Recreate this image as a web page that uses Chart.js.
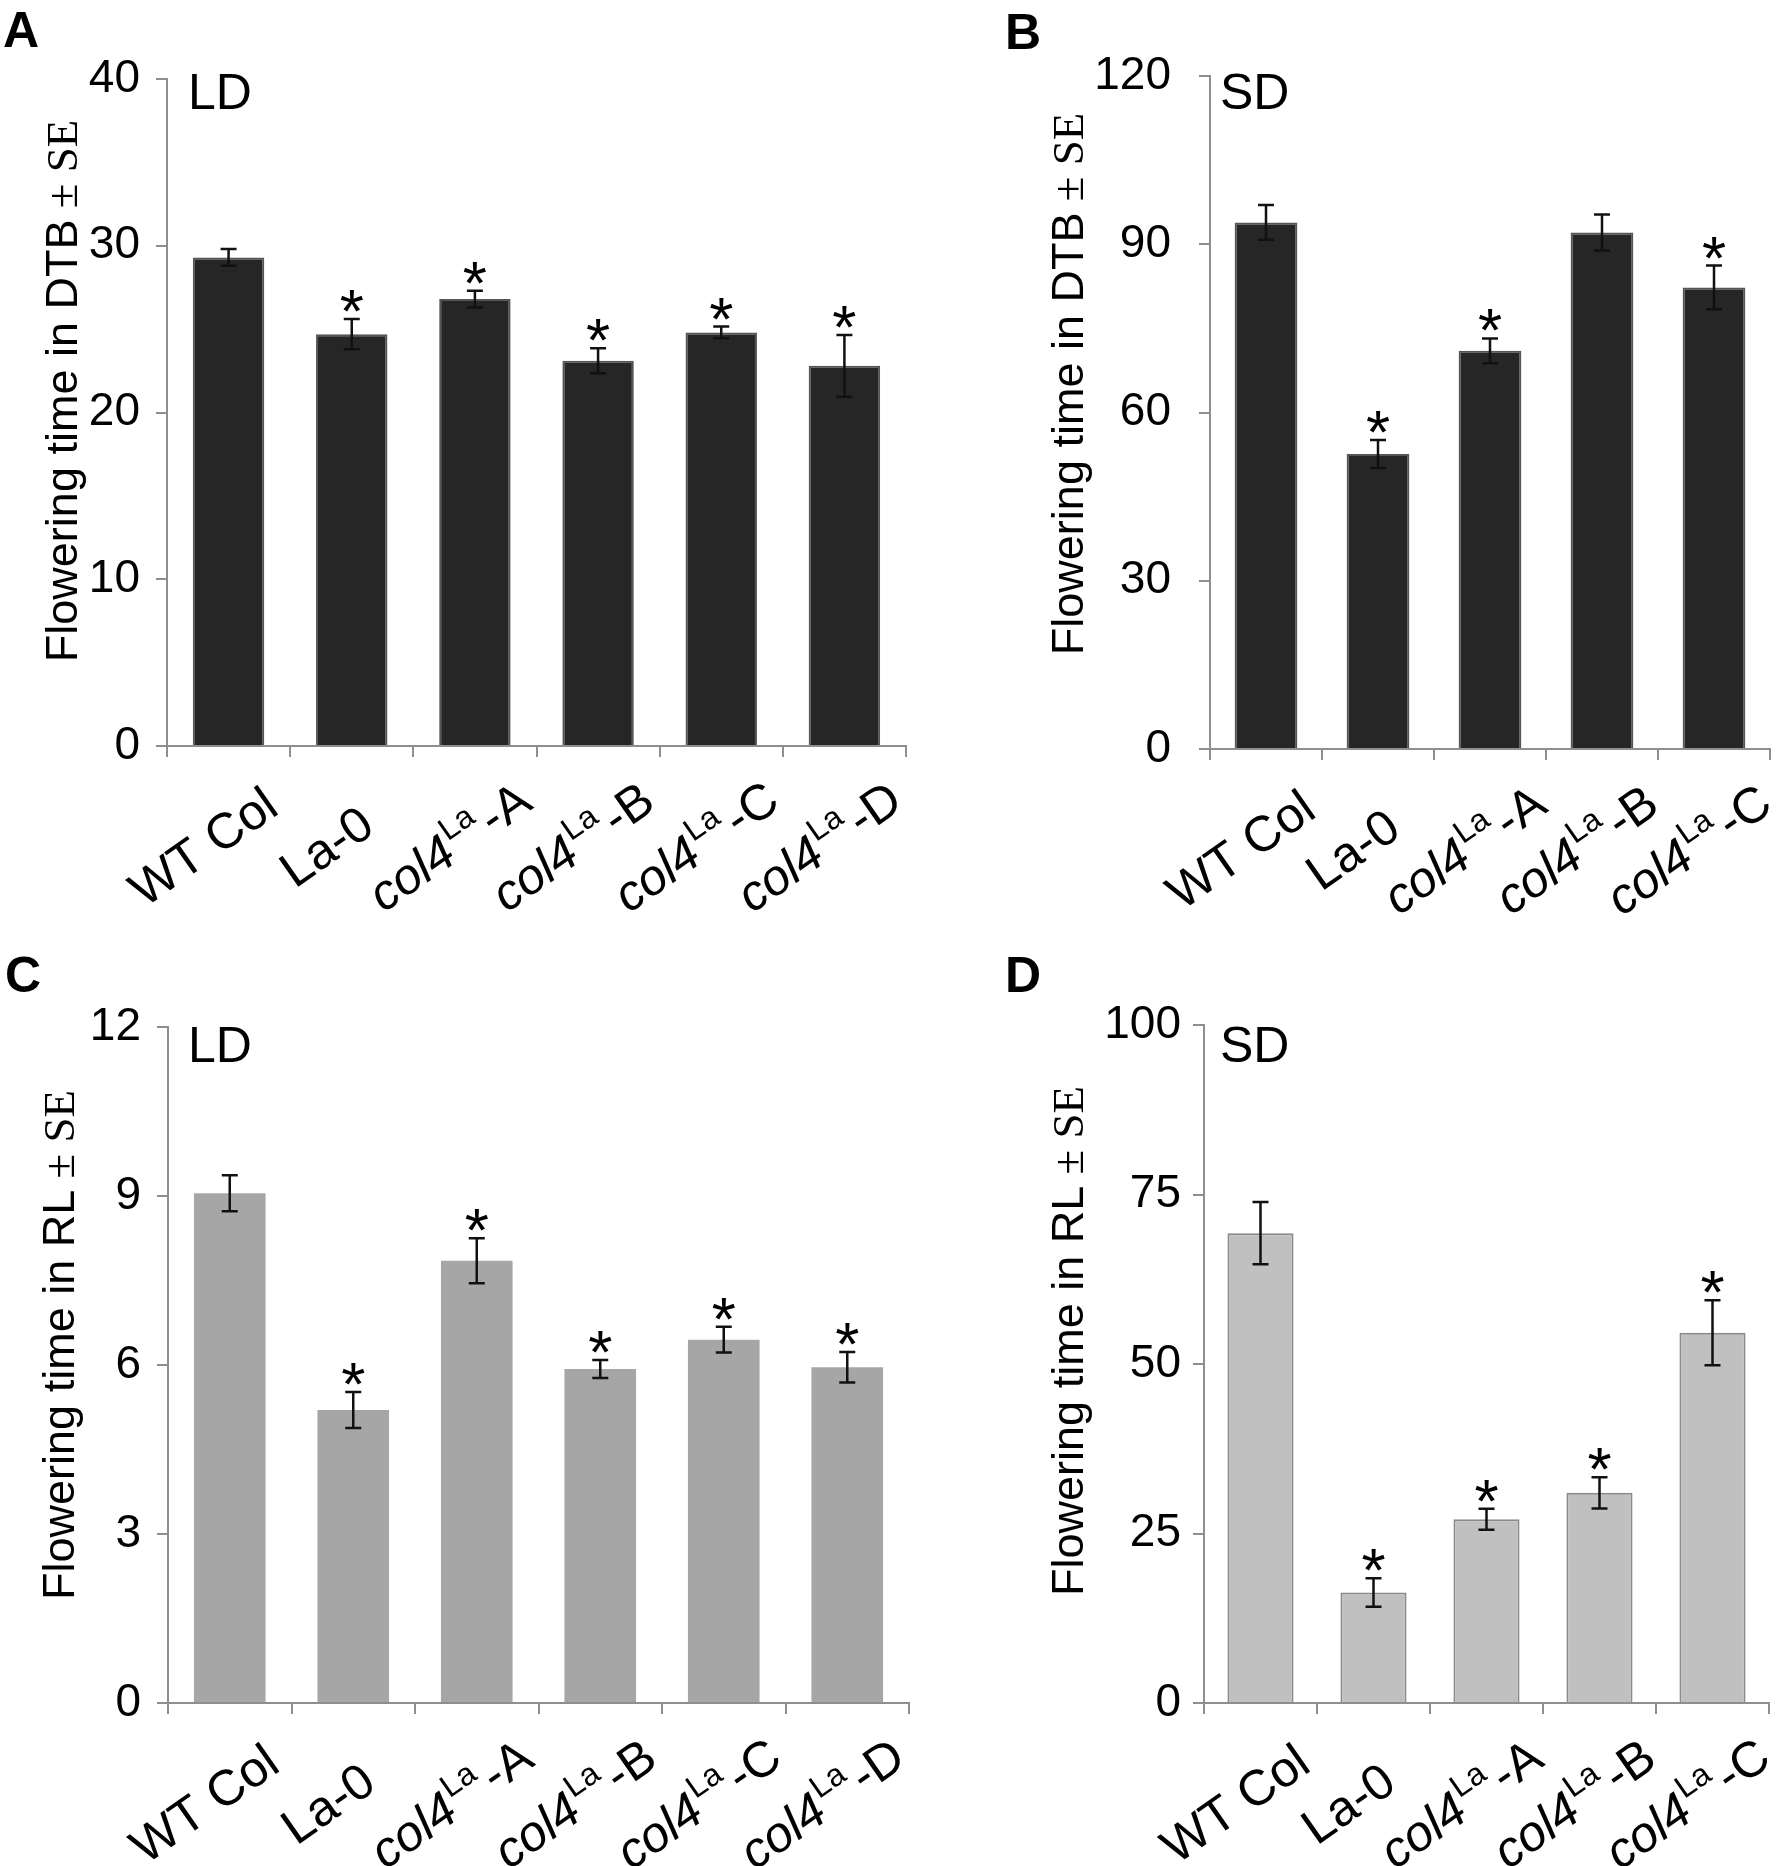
<!DOCTYPE html>
<html>
<head>
<meta charset="utf-8">
<title>Flowering time</title>
<script src="https://cdn.jsdelivr.net/npm/chart.js@4.4.1/dist/chart.umd.min.js"></script>
<style>
html, body { margin: 0; padding: 0; background: #fff; }
#fig { position: relative; width: 1778px; height: 1866px; overflow: hidden; }
.panel { position: absolute; height: 933px; }
</style>
</head>
<body>
<div id="fig">
  <div class="panel" style="left:0;top:0;width:940px"><canvas id="panelA" width="940" height="933"></canvas></div>
  <div class="panel" style="left:889px;top:0;width:889px"><canvas id="panelB" width="889" height="933"></canvas></div>
  <div class="panel" style="left:0;top:933px;width:940px"><canvas id="panelC" width="940" height="933"></canvas></div>
  <div class="panel" style="left:889px;top:933px;width:889px"><canvas id="panelD" width="889" height="933"></canvas></div>
</div>
<script>
// genotypes
var linesLD = ['WT Col', 'La-0', 'col4La-A', 'col4La-B', 'col4La-C', 'col4La-D'];
var linesSD = ['WT Col', 'La-0', 'col4La-A', 'col4La-B', 'col4La-C'];

// days to bolting
var dtbLD = [29.3, 24.7, 26.8, 23.1, 24.8, 22.8];
var dtbLDse = [0.5, 0.9, 0.5, 0.75, 0.35, 1.85];
var dtbLDsig = [false, true, true, true, true, true];
var dtbSD = [93.9, 52.6, 71.0, 92.1, 82.3];
var dtbSDse = [3.1, 2.5, 2.2, 3.2, 3.9];
var dtbSDsig = [false, true, true, false, true];

// rosette leaves
var rlLD = [9.05, 5.2, 7.85, 5.93, 6.45, 5.96];
var rlLDse = [0.32, 0.32, 0.4, 0.16, 0.23, 0.27];
var rlLDsig = [false, true, true, true, true, true];
var rlSD = [69.3, 16.3, 27.1, 31.0, 54.6];
var rlSDse = [4.6, 2.1, 1.55, 2.3, 4.8];
var rlSDsig = [false, true, true, true, true];

// y tick labels
var ticksDtbLD = [0, 10, 20, 30, 40];
var ticksDtbSD = [0, 30, 60, 90, 120];
var ticksRlLD = [0, 3, 6, 9, 12];
var ticksRlSD = [0, 25, 50, 75, 100];

var SANS = '"Liberation Sans", Arial, sans-serif';
var SERIF = '"Liberation Serif", "Times New Roman", serif';
var AXIS_GREY = '#8e8e8e';

//x labels: col4 in italics with a superscript La, rotated 35deg,
//the rotated box is centred a little left of the bar
function drawXLabel(ctx, text, cx, axisY){
    var segs;
    if(text.indexOf('col4La') === 0){
        segs = [
            {t: 'col4', f: 'italic 50px ' + SANS, dy: 0, gap: 0},
            {t: 'La', f: '32px ' + SANS, dy: -22, gap: 2},
            {t: text.slice(6), f: '50px ' + SANS, dy: 0, gap: 5}
        ];
    } else {
        segs = [{t: text, f: '50px ' + SANS, dy: 0, gap: 0}];
    }
    var len = 0;
    segs.forEach(function(s){
        ctx.font = s.f;
        s.w = ctx.measureText(s.t).width;
        len += s.w + s.gap;
    });
    var th = 35 * Math.PI / 180;
    var cap = 35;
    var boxW = len * Math.cos(th) + cap * Math.sin(th);
    var boxH = len * Math.sin(th) + cap * Math.cos(th);
    var topRightX = cx - 46 + boxW / 2;
    var topRightY = axisY + 100 - boxH / 2;
    ctx.save();
    ctx.translate(topRightX + cap * Math.sin(th), topRightY + cap * Math.cos(th));
    ctx.rotate(-th);
    ctx.fillStyle = '#000';
    ctx.textAlign = 'left';
    ctx.textBaseline = 'alphabetic';
    var x = -len;
    segs.forEach(function(s){
        x += s.gap;
        ctx.font = s.f;
        ctx.fillText(s.t, x, s.dy);
        x += s.w;
    });
    ctx.restore();
}

var decor = {
    id: 'decor',
    afterDatasetsDraw: function(chart, args, opts){
        var ctx = chart.ctx;
        var y = chart.scales.y;
        var meta = chart.getDatasetMeta(0);
        ctx.save();
        //error bars and stars
        meta.data.forEach(function(bar, i){
            var v = opts.values[i], e = opts.errors[i];
            var top = y.getPixelForValue(v + e);
            var bot = y.getPixelForValue(v - e);
            ctx.strokeStyle = '#111';
            ctx.lineWidth = 2.5;
            ctx.beginPath();
            ctx.moveTo(bar.x, top); ctx.lineTo(bar.x, bot);
            ctx.moveTo(bar.x - 8, top); ctx.lineTo(bar.x + 8, top);
            ctx.moveTo(bar.x - 8, bot); ctx.lineTo(bar.x + 8, bot);
            ctx.stroke();
            if(opts.sig[i]){
                ctx.font = '62px ' + SANS;
                ctx.fillStyle = '#000';
                ctx.textAlign = 'center';
                ctx.textBaseline = 'alphabetic';
                var m = ctx.measureText('*');
                ctx.fillText('*', bar.x, top - 7 - m.actualBoundingBoxDescent);
            }
        });
        ctx.restore();
    },
    afterDraw: function(chart, args, opts){
        var ctx = chart.ctx;
        var xs = chart.scales.x;
        var area = chart.chartArea;
        ctx.save();
        chart.data.labels.forEach(function(lab, i){
            drawXLabel(ctx, lab, xs.getPixelForValue(i), area.bottom);
        });

        //y title, sans part then serif part
        ctx.translate(opts.titleX, opts.titleY);
        ctx.rotate(-Math.PI / 2);
        ctx.fillStyle = '#000';
        ctx.textBaseline = 'alphabetic';
        ctx.textAlign = 'left';
        ctx.font = '45px ' + SANS;
        var w1 = ctx.measureText(opts.title).width;
        ctx.font = '45px ' + SERIF;
        var w2 = ctx.measureText(' \u00b1 SE').width;
        var x0 = -(w1 + w2) / 2;
        ctx.font = '45px ' + SANS;
        ctx.fillText(opts.title, x0, 11);
        ctx.font = '45px ' + SERIF;
        ctx.fillText(' \u00b1 SE', x0 + w1, 11);
        ctx.restore();

        ctx.save();
        ctx.fillStyle = '#000';
        ctx.textAlign = 'left';
        ctx.textBaseline = 'alphabetic';
        ctx.font = 'bold 50px ' + SANS;
        ctx.fillText(opts.letter, opts.letterX, opts.letterY);
        ctx.font = '50px ' + SANS;
        ctx.fillText(opts.cond, opts.condX, opts.condY);
        ctx.restore();
    }
};

function panel(id, p){
    var canvas = document.getElementById(id);
    var H = canvas.height, W = canvas.width;
    return new Chart(canvas, {
        type: 'bar',
        data: {
            labels: p.labels,
            datasets: [{
                data: p.values,
                backgroundColor: p.fill,
                borderColor: p.border,
                borderWidth: p.borderWidth,
                categoryPercentage: 1,
                barPercentage: p.barPct
            }]
        },
        options: {
            responsive: false,
            animation: false,
            devicePixelRatio: 1,
            layout: {padding: {top: p.top, right: W - p.right, bottom: 0, left: 0}},
            plugins: {
                legend: {display: false},
                tooltip: {enabled: false},
                decor: {
                    values: p.values, errors: p.errors, sig: p.sig,
                    title: p.title, titleX: p.titleX, titleY: p.titleY,
                    letter: p.letter, letterX: p.letterX, letterY: p.letterY,
                    cond: p.cond, condX: p.condX, condY: p.condY
                }
            },
            scales: {
                x: {
                    offset: true,
                    grid: {offset: true, drawOnChartArea: false, drawTicks: true, tickLength: 11, color: AXIS_GREY, lineWidth: 2},
                    border: {color: AXIS_GREY, width: 2},
                    ticks: {display: false},
                    afterFit: function(s){ s.height = H - p.bottom; }
                },
                y: {
                    min: p.ticks[0],
                    max: p.ticks[p.ticks.length - 1],
                    grid: {drawOnChartArea: false, drawTicks: true, tickLength: 11, color: AXIS_GREY, lineWidth: 2},
                    border: {color: AXIS_GREY, width: 2},
                    ticks: {
                        stepSize: p.ticks[1] - p.ticks[0],
                        padding: p.tickPad,
                        color: '#000',
                        font: {family: 'Liberation Sans', size: 46}
                    },
                    afterFit: function(s){ s.width = p.left; }
                }
            }
        },
        plugins: [decor]
    });
}

panel('panelA', {
    labels: linesLD, values: dtbLD, errors: dtbLDse, sig: dtbLDsig, ticks: ticksDtbLD,
    fill: '#262626', border: '#555555', borderWidth: 2, barPct: 0.58,
    left: 167, right: 906, top: 79, bottom: 746, tickPad: 16,
    title: 'Flowering time in DTB', titleX: 66, titleY: 391,
    letter: 'A', letterX: 3, letterY: 47, cond: 'LD', condX: 188, condY: 109
});

panel('panelB', {
    labels: linesSD, values: dtbSD, errors: dtbSDse, sig: dtbSDsig, ticks: ticksDtbSD,
    fill: '#262626', border: '#555555', borderWidth: 2, barPct: 0.56,
    left: 321, right: 881, top: 76, bottom: 749, tickPad: 28,
    title: 'Flowering time in DTB', titleX: 183, titleY: 384,
    letter: 'B', letterX: 116, letterY: 49, cond: 'SD', condX: 331, condY: 109
});

panel('panelC', {
    labels: linesLD, values: rlLD, errors: rlLDse, sig: rlLDsig, ticks: ticksRlLD,
    fill: '#a6a6a6', border: '#a6a6a6', borderWidth: 0, barPct: 0.58,
    left: 168, right: 909, top: 94, bottom: 770, tickPad: 16,
    title: 'Flowering time in RL', titleX: 63, titleY: 412,
    letter: 'C', letterX: 5, letterY: 59, cond: 'LD', condX: 188, condY: 129
});

panel('panelD', {
    labels: linesSD, values: rlSD, errors: rlSDse, sig: rlSDsig, ticks: ticksRlSD,
    fill: '#c0c0c0', border: '#8a8a8a', borderWidth: 2, barPct: 0.585,
    left: 315, right: 880, top: 92, bottom: 770, tickPad: 12,
    title: 'Flowering time in RL', titleX: 183, titleY: 408,
    letter: 'D', letterX: 116, letterY: 59, cond: 'SD', condX: 331, condY: 129
});
</script>
</body>
</html>
